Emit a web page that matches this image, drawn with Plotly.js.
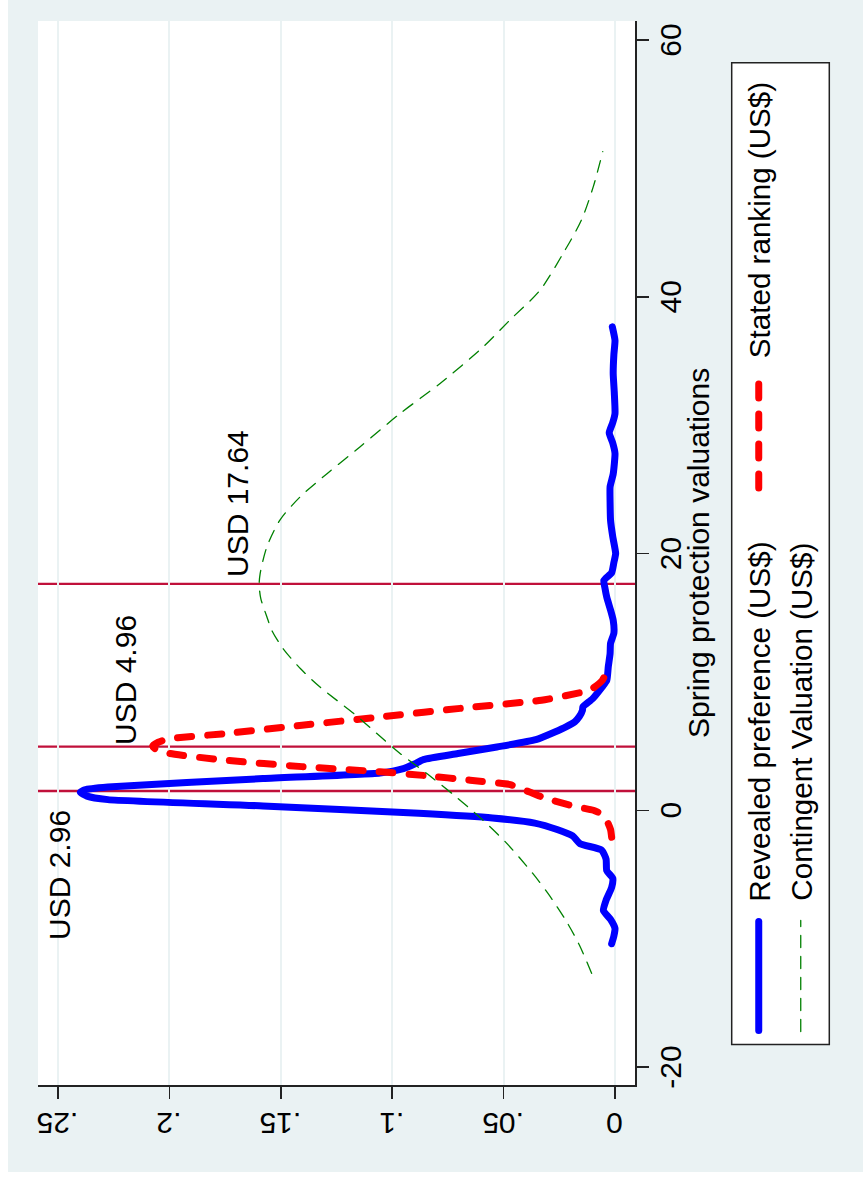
<!DOCTYPE html>
<html>
<head>
<meta charset="utf-8">
<script src="https://cdn.plot.ly/plotly-3.0.1.min.js"></script>
<style>
html,body{margin:0;padding:0;background:#fff;overflow:hidden;width:863px;height:1178px}
#wrap{position:absolute;left:0;top:0;width:1178px;height:863px;transform-origin:0 0;transform:translate(0px,1178px) rotate(-90deg);background:#fff}
#chart{position:absolute;left:6px;top:8px;width:1172px;height:855px}
</style>
</head>
<body>
<div id="wrap"><div id="chart"></div></div>
<script>
var revealedX = [-10.4,-9.8,-9.2,-8.5,-7.8,-7.0,-6.0,-5.3,-4.7,-3.8,-3.1,-2.6,-2.0,-1.5,-1.0,-0.6,-0.24,0.34,0.83,1.1,1.4,1.6,1.82,2.47,2.91,3.25,3.6,3.95,4.42,4.93,5.5,6.1,6.5,6.9,7.3,7.8,8.05,8.7,9.6,10.1,11.2,12.2,13.0,13.8,14.8,15.6,16.6,17.3,17.9,18.5,19.3,20.0,21.3,22.6,24.0,25.2,26.2,27.8,28.6,29.4,30.2,30.9,32.5,34.0,35.5,36.6,37.66];
var revealedY = [0.0015,0.0005,0.0,0.002,0.0052,0.004,0.0015,0.001,0.0037,0.004,0.006,0.0157,0.019,0.026,0.036,0.055,0.088,0.158,0.2276,0.237,0.240,0.238,0.2276,0.158,0.1055,0.095,0.090,0.086,0.0705,0.053,0.0355,0.027,0.022,0.018,0.016,0.0146,0.0144,0.010,0.0058,0.0037,0.003,0.0022,0.002,0.0005,0.0008,0.002,0.0037,0.0045,0.005,0.0015,0.0005,-0.0003,0.001,0.002,0.0022,0.0022,0.0008,0.0,0.001,0.0026,0.001,0.0,0.0003,0.0008,0.0005,0.0,0.0012];

var statedX = [-2.1,-1.5,-0.8,-0.3,0.0,0.3,0.9,1.4,1.7,2.0,2.34,2.7,3.0,3.4,3.9,4.42,4.8,5.0,5.3,5.58,5.97,6.62,7.27,8.0,8.57,9.2,9.35,10.1,10.7,11.2];
var statedY = [0.0015,0.002,0.0037,0.006,0.0097,0.018,0.0307,0.038,0.0426,0.047,0.065,0.085,0.1055,0.1405,0.175,0.1997,0.2065,0.2075,0.205,0.1997,0.175,0.1405,0.1055,0.066,0.033,0.0146,0.0112,0.0058,0.004,0.003];

var contingentX = [-12.7,-10.5,-8.6,-6.5,-4.9,-2.5,-0.5,1.0,2.8,4.5,6.0,7.5,9.6,11.0,12.6,14.0,15.1,16.5,17.6,18.4,20.5,22.6,24.4,26.2,28.3,30.9,33.25,36.1,38.2,40.5,43.4,46.0,48.6,51.3];
var contingentY = [0.0105,0.016,0.022,0.030,0.037,0.049,0.061,0.071,0.084,0.097,0.107,0.117,0.1324,0.141,0.149,0.154,0.1563,0.159,0.1597,0.1593,0.1563,0.1504,0.1414,0.1294,0.1145,0.0965,0.0785,0.0591,0.0471,0.0337,0.0232,0.015,0.0097,0.0055];

var seriesNames = ['Revealed preference (US$)','Stated ranking (US$)','Contingent Valuation (US$)'];
var xTitle = 'Spring protection valuations';
var refLines = [1.5, 4.96, 17.64];
var labelTexts = ['USD 2.96','USD 4.96','USD 17.64'];
var labelX = [-5.05, 10.13, 23.9];
var labelY = [0.2493, 0.2195, 0.1694];
var xTicks = [-20,0,20,40,60];
var xTickText = ['-20','0','20','40','60'];
var yTicks = [0,0.05,0.1,0.15,0.2,0.25];
var yTickText = ['0','.05','.1','.15','.2','.25'];

var FONT = 'Liberation Sans, Arial, sans-serif';
var FS = 30;
var SP = '\u2002';

var traces = [
  {x: revealedX, y: revealedY, name: SP + seriesNames[0], type:'scatter', mode:'lines',
   line:{color:'#0000ff', width:7, shape:'spline', smoothing:0.5}, legend:'legend'},
  {x: statedX, y: statedY, name: SP + seriesNames[1], type:'scatter', mode:'lines',
   line:{color:'#ff0000', width:7, dash:'14px,16px', shape:'spline', smoothing:0.5}, legend:'legend2'},
  {x: contingentX, y: contingentY, name: SP + seriesNames[2], type:'scatter', mode:'lines',
   line:{color:'#008000', width:1.3, dash:'12px,9px', shape:'spline', smoothing:0.8}, legend:'legend3'}
];

var shapes = refLines.map(function(v){
  return {type:'line', xref:'x', yref:'paper', x0:v, x1:v, y0:0, y1:1, layer:'between',
          line:{color:'#c0103a', width:2.3}};
});
shapes.push({type:'rect', xref:'paper', yref:'paper',
  x0:(133.4-93)/1064, x1:(1115.3-93)/1064, y0:(635-829.3)/597, y1:(635-731.7)/597,
  fillcolor:'#ffffff', line:{color:'#222', width:1.5}, layer:'above'});

var annotations = labelTexts.map(function(t,i){
  return {x:labelX[i], y:labelY[i], xref:'x', yref:'y', text:t, showarrow:false,
          xanchor:'center', yanchor:'middle', font:{family:FONT, size:FS, color:'#000'}};
});
annotations.push({x:0.5, y:(635-680)/597, xref:'paper', yref:'paper', text:xTitle, showarrow:false,
  xanchor:'center', yanchor:'top', font:{family:FONT, size:FS, color:'#000'}});

function leg(x, y, w){
  return {x:(x-93)/1064, y:(635-y)/597, xanchor:'left', yanchor:'middle', orientation:'v', bgcolor:'rgba(0,0,0,0)',
          borderwidth:0, itemwidth:w, font:{family:FONT, size:29.6, color:'#000'}};
}

var layout = {
  width:1172, height:855,
  margin:{l:87, r:21, t:30, b:228},
  paper_bgcolor:'#eaf2f3', plot_bgcolor:'#ffffff',
  font:{family:FONT, size:FS, color:'#000'},
  xaxis:{range:[-21.40, 61.48], tickvals:xTicks, ticktext:xTickText, ticks:'outside', ticklen:12, tickwidth:1.5,
         tickcolor:'#222', showline:true, linecolor:'#222', linewidth:1.5, showgrid:false,
         zeroline:false, ticklabelstandoff:-4, tickfont:{family:FONT, size:FS, color:'#000'}},
  yaxis:{range:[-0.00898, 0.25898], tickvals:yTicks, ticktext:yTickText, tickangle:-90,
         ticks:'outside', ticklen:12, tickwidth:1.5, tickcolor:'#222', showline:true,
         linecolor:'#222', linewidth:1.5, showgrid:true, gridcolor:'#eaf2f3', gridwidth:2,
         zeroline:false, ticklabelstandoff:2, ticklabelshift:4,
         tickfont:{family:FONT, size:FS, color:'#000'}},
  showlegend:true,
  legend: leg(142.5, 759, 109),
  legend2: leg(685, 759, 110),
  legend3: leg(141.5, 801, 111),
  shapes:shapes,
  annotations:annotations
};

Plotly.newPlot('chart', traces, layout, {staticPlot:true, displayModeBar:false, responsive:false}).then(function(gd){
  var d = document.querySelectorAll('#chart .scatterlayer path.js-line, #chart .legendlines path');
  d.forEach(function(p){ p.style.strokeLinecap = 'round'; p.style.strokeLinejoin = 'round'; });
});
</script>
</body>
</html>
